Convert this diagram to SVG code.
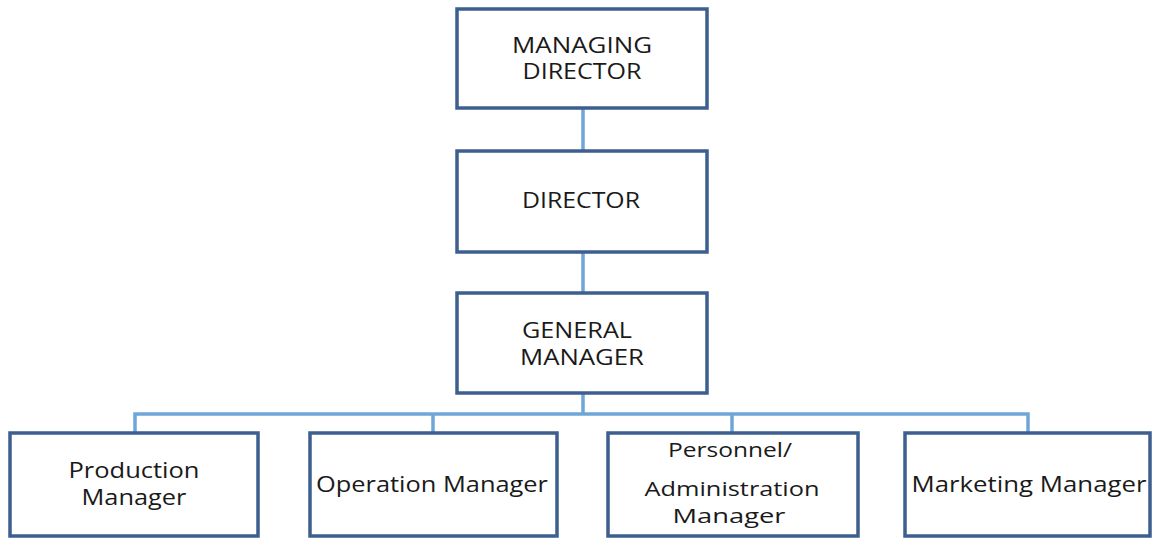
<svg xmlns="http://www.w3.org/2000/svg" width="1158" height="538" viewBox="0 0 1158 538">
<style>
.box{fill:#ffffff;stroke:#3d5f8f;stroke-width:3.5}
.conn{fill:none;stroke:#6fa6d8;stroke-width:3.5}
text{font-family:"Open Sans","Liberation Sans",sans-serif;fill:#1a1a1a;text-anchor:middle;font-size:21px}
.sm{font-size:20px}
</style>
<rect width="1158" height="538" fill="#ffffff"/>
<g id="connectors">
<line class="conn" x1="583" y1="108" x2="583" y2="151"/>
<line class="conn" x1="583" y1="252" x2="583" y2="293"/>
<line class="conn" x1="583" y1="393" x2="583" y2="414"/>
<polyline class="conn" points="135,433 135,414 1028,414 1028,433"/>
<line class="conn" x1="433" y1="414" x2="433" y2="433"/>
<line class="conn" x1="732" y1="414" x2="732" y2="433"/>
</g>
<g id="managing-director">
<rect class="box" x="457" y="9" width="250" height="99"/>
<text x="582" y="53" textLength="140" lengthAdjust="spacingAndGlyphs">MANAGING</text>
<text x="582" y="79" textLength="119" lengthAdjust="spacingAndGlyphs">DIRECTOR</text>
</g>
<g id="director">
<rect class="box" x="457" y="151" width="250" height="101"/>
<text x="581" y="208" textLength="118" lengthAdjust="spacingAndGlyphs">DIRECTOR</text>
</g>
<g id="general-manager">
<rect class="box" x="457" y="293" width="250" height="100"/>
<text x="577" y="338" textLength="110" lengthAdjust="spacingAndGlyphs">GENERAL</text>
<text x="582" y="365" textLength="124" lengthAdjust="spacingAndGlyphs">MANAGER</text>
</g>
<g id="production-manager">
<rect class="box" x="10" y="433" width="248" height="103"/>
<text x="134" y="478" textLength="131" lengthAdjust="spacingAndGlyphs">Production</text>
<text x="134" y="505" textLength="105" lengthAdjust="spacingAndGlyphs">Manager</text>
</g>
<g id="operation-manager">
<rect class="box" x="310" y="433" width="247" height="103"/>
<text x="432" y="492" textLength="232" lengthAdjust="spacingAndGlyphs">Operation Manager</text>
</g>
<g id="personnel-administration-manager">
<rect class="box" x="608" y="433" width="250" height="103"/>
<text class="sm" x="730" y="457" textLength="124" lengthAdjust="spacingAndGlyphs">Personnel/</text>
<text class="sm" x="732" y="496" textLength="175" lengthAdjust="spacingAndGlyphs">Administration</text>
<text class="sm" x="729" y="523" textLength="113" lengthAdjust="spacingAndGlyphs">Manager</text>
</g>
<g id="marketing-manager">
<rect class="box" x="905" y="433" width="245" height="103"/>
<text x="1029" y="492" textLength="235" lengthAdjust="spacingAndGlyphs">Marketing Manager</text>
</g>
</svg>
